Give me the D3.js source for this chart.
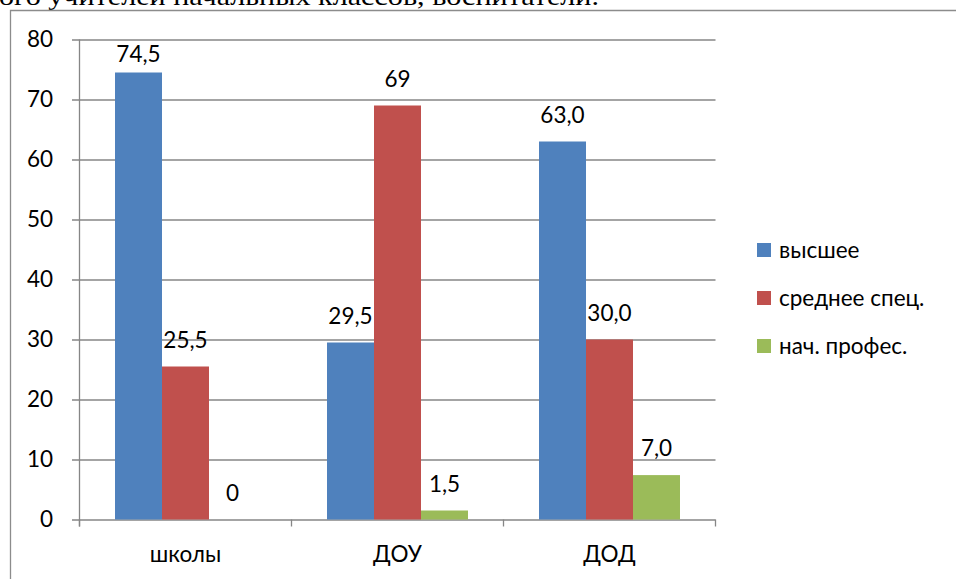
<!DOCTYPE html>
<html><head><meta charset="utf-8">
<script src="https://cdn.jsdelivr.net/npm/d3@7"></script>
<style>
html,body{margin:0;padding:0;background:#fff;overflow:hidden;}
svg{display:block;}
</style></head>
<body>
<script>
const categories = ["школы", "ДОУ", "ДОД"];
const seriesNames = ["высшее", "среднее спец.", "нач. профес."];
const vyshee = [74.5, 29.5, 63.0];
const srednee = [25.5, 69.0, 30.0];
const nachProf = [0, 1.5, 7.4];
const labelsVyshee = ["74,5", "29,5", "63,0"];
const labelsSrednee = ["25,5", "69", "30,0"];
const labelsNach = ["0", "1,5", "7,0"];
const yTicks = [0, 10, 20, 30, 40, 50, 60, 70, 80];
const colors = ["#4F81BD", "#C0504D", "#9BBB59"];
const headerText = "ого учителей начальных классов, воспитатели.";

const seriesValues = [vyshee, srednee, nachProf];
const seriesLabels = [labelsVyshee, labelsSrednee, labelsNach];

const W = 956, H = 579;
const svg = d3.select("body").append("svg").attr("width", W).attr("height", H);
const font = "Lato, 'Open Sans', sans-serif";
const fs = 22.5;

// header text (cut off at top, as in the source)
svg.append("text").attr("x", -1).attr("y", 5)
  .attr("font-family", "'Liberation Serif', 'Times New Roman', serif")
  .attr("font-size", 26).attr("fill", "#000")
  .attr("textLength", 600).attr("lengthAdjust", "spacingAndGlyphs")
  .text(headerText);

// frame
svg.append("path").attr("d", "M10.5,579 V10.5 H956")
  .attr("fill", "none").attr("stroke", "#8c8c8c").attr("stroke-width", 1.3);

const plotL = 79.5, plotR = 715.5, plotT = 39.5, plotB = 519.5;
const x0 = d3.scaleBand().domain(categories).range([plotL, plotR]);
const bw = x0.bandwidth();
const x1 = d3.scaleBand().domain(seriesNames).range([bw * 0.1675, bw * 0.8325]);
const y = d3.scaleLinear().domain([0, 80]).range([plotB, plotT]);

// gridlines + y labels via axis
const yAxis = d3.axisLeft(y).tickValues(yTicks).tickSize(-(plotR - 72)).tickPadding(19).tickFormat(d3.format("d"));
const yg = svg.append("g").attr("transform", "translate(72,0)").call(yAxis);
yg.select(".domain").remove();
yg.selectAll(".tick line").attr("stroke", "#868686").attr("stroke-width", 1.3);
yg.selectAll(".tick text").attr("font-family", font).attr("font-size", fs).attr("fill", "#000");

// vertical axis line
svg.append("line").attr("x1", plotL).attr("x2", plotL).attr("y1", plotT).attr("y2", plotB + 7)
  .attr("stroke", "#868686").attr("stroke-width", 1.3);

// category boundary ticks
const bounds = categories.map(c => x0(c)).concat([x0(categories[categories.length - 1]) + bw]);
svg.selectAll("line.ctick").data(bounds).enter().append("line")
  .attr("x1", d => d).attr("x2", d => d).attr("y1", plotB).attr("y2", plotB + 7)
  .attr("stroke", "#868686").attr("stroke-width", 1.3);

// bars
const groups = svg.selectAll("g.cat").data(categories).enter().append("g")
  .attr("transform", c => `translate(${x0(c)},0)`);
seriesNames.forEach((s, si) => {
  groups.append("rect")
    .attr("x", x1(s)).attr("width", x1.bandwidth())
    .attr("y", (c, ci) => y(seriesValues[si][ci]))
    .attr("height", (c, ci) => plotB - y(seriesValues[si][ci]))
    .attr("fill", colors[si]);
  groups.append("text")
    .attr("x", x1(s) + x1.bandwidth() / 2)
    .attr("y", (c, ci) => Math.max(y(seriesValues[si][ci]) - 19, 62))
    .attr("text-anchor", "middle")
    .attr("font-family", font).attr("font-size", fs).attr("fill", "#000")
    .text((c, ci) => seriesLabels[si][ci]);
});

// category labels
const xAxis = d3.axisBottom(x0).tickSize(0).tickPadding(0);
const xg = svg.append("g").attr("transform", `translate(0,${plotB})`).call(xAxis);
xg.select(".domain").remove();
xg.selectAll(".tick line").remove();
xg.selectAll(".tick text").attr("dy", null).attr("y", 42)
  .attr("font-family", font).attr("font-size", fs).attr("fill", "#000");

// legend
const lg = svg.append("g").attr("transform", "translate(757,243)");
seriesNames.forEach((s, i) => {
  const g = lg.append("g").attr("transform", `translate(0,${i * 48})`);
  g.append("rect").attr("width", 14).attr("height", 14).attr("fill", colors[i]);
  g.append("text").attr("x", 22).attr("y", 7).attr("dy", "0.36em")
    .attr("font-family", font).attr("font-size", fs).attr("fill", "#000").text(s);
});
</script>
</body></html>
